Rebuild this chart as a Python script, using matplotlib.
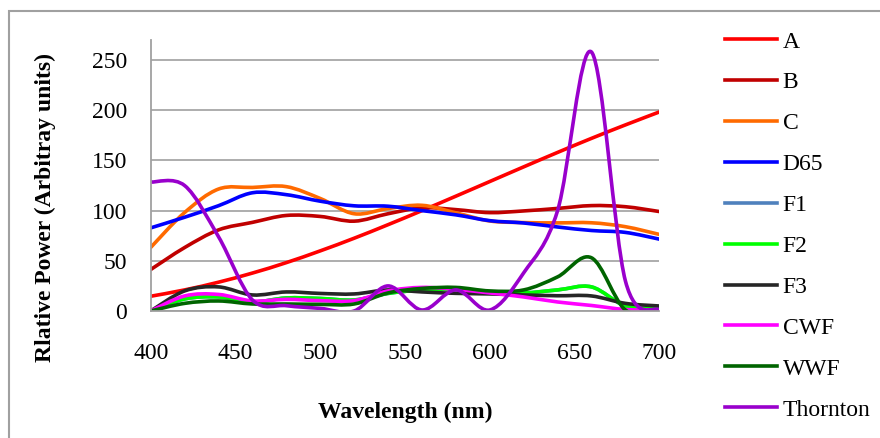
import numpy as np
import matplotlib.pyplot as plt
from matplotlib.path import Path
from matplotlib.patches import PathPatch, Rectangle
from matplotlib.lines import Line2D

plt.rcParams['font.family'] = ['Liberation Serif', 'DejaVu Serif']

# Spectra, every 20 nm
wavelength = [400, 420, 440, 460, 480, 500, 520, 540, 560, 580, 600, 620, 640, 660, 680, 700]
A = [14.7, 21.0, 28.7, 37.8, 48.2, 59.9, 72.5, 86.0, 100.0, 114.4, 129.0, 143.6, 158.0, 172.0, 185.4, 198.3]
B = [41.3, 63.2, 80.8, 88.3, 95.2, 94.2, 89.5, 96.9, 102.8, 101.0, 98.0, 99.7, 102.2, 105.0, 103.9, 99.1]
C = [63.3, 98.1, 121.5, 123.1, 123.9, 112.1, 96.9, 102.1, 105.3, 97.8, 89.7, 88.1, 87.8, 87.9, 84.0, 76.3]
D65 = [82.8, 93.4, 104.9, 117.8, 115.9, 109.4, 104.8, 104.4, 100.0, 95.8, 90.0, 87.7, 83.7, 80.2, 78.3, 71.6]
F1 = [0, 12, 14, 9, 13, 12.5, 11, 17.5, 21, 21.5, 19, 18, 21, 24, 5, 2]
F2 = [0, 12, 14, 9, 13, 12.5, 11, 17.5, 21, 21.5, 19, 18, 21, 24, 5, 2]
F3 = [0, 20, 24, 16, 19, 17.5, 17, 21, 19, 17.6, 17, 16, 15.2, 15, 7.6, 5]
CWF = [0, 15, 16.5, 10, 11.6, 10.3, 10.3, 20, 23.5, 21.5, 18, 14, 9, 5.5, 1.5, 1]
WWF = [0, 7.6, 10, 7, 7, 6.6, 7, 18, 22.5, 23.5, 20, 21, 34, 53, 1, 0]
Thornton = [128.5, 125, 74, 11, 5.3, 2.6, 0, 25, 1, 21, 1, 38, 100, 258, 30, 1]

names = ['A', 'B', 'C', 'D65', 'F1', 'F2', 'F3', 'CWF', 'WWF', 'Thornton']
series = [A, B, C, D65, F1, F2, F3, CWF, WWF, Thornton]
colors = ['#FF0000', '#C00000', '#FF6A00', '#0000FF', '#4F81BD',
          '#00FF00', '#262626', '#FF00FF', '#006400', '#9900CC']


def smooth_path(x, y):
    # cubic Bezier segments, same idea as Excel's "smoothed line"
    x = np.asarray(x, float)
    y = np.asarray(y, float)
    xp = np.concatenate([[x[0]], x, [x[-1]]])
    yp = np.concatenate([[y[0]], y, [y[-1]]])
    verts = [(x[0], y[0])]
    codes = [Path.MOVETO]
    for i in range(len(x) - 1):
        c1 = (x[i] + (xp[i + 2] - xp[i]) / 6, y[i] + (yp[i + 2] - yp[i]) / 6)
        c2 = (x[i + 1] - (xp[i + 3] - xp[i + 1]) / 6, y[i + 1] - (yp[i + 3] - yp[i + 1]) / 6)
        verts += [c1, c2, (x[i + 1], y[i + 1])]
        codes += [Path.CURVE4] * 3
    return Path(verts, codes)


fig = plt.figure(figsize=(8.8, 4.38), dpi=100)
ax = fig.add_axes([150.7 / 880, 1 - 311 / 438, 508.6 / 880, 271 / 438])

lw = 2.6
for vals, col in zip(series, colors):
    ax.add_patch(PathPatch(smooth_path(wavelength, vals), fill=False, edgecolor=col,
                           lw=lw, capstyle='round', joinstyle='round'))

ax.set_xlim(400, 700)
ax.set_ylim(0, 270)
ax.set_xticks([400, 450, 500, 550, 600, 650, 700])
ax.set_yticks([0, 50, 100, 150, 200, 250])
ax.grid(axis='y', color='#A0A0A0', lw=1.2)
ax.set_axisbelow(True)
ax.tick_params(length=0, labelsize=17)
ax.tick_params(axis='y', pad=17)
ax.tick_params(axis='x', pad=23)
for s in ['top', 'right']:
    ax.spines[s].set_visible(False)
for s in ['left', 'bottom']:
    ax.spines[s].set_color('#A0A0A0')
    ax.spines[s].set_linewidth(1.3)

fig.text(405 / 880, 1 - 412 / 438, 'Wavelength (nm)', fontsize=17, fontweight='bold',
         ha='center', va='center')
fig.text(45 / 880, 1 - 208 / 438, 'Rlative Power (Arbitray units)', fontsize=17,
         fontweight='bold', rotation=90, ha='center', va='center')

handles = [Line2D([], [], color=c, lw=lw) for c in colors]
fig.legend(handles, names, loc='upper left', bbox_to_anchor=(725 / 880, 1 - 31 / 438),
           frameon=False, fontsize=17, borderpad=0, borderaxespad=0,
           handlelength=2.2, handletextpad=0.25, labelspacing=0.82)

fig.add_artist(Rectangle((9 / 880, -0.1), 1.2, 1.1 - 11 / 438, transform=fig.transFigure,
                         fill=False, edgecolor='#A0A0A0', lw=1.5))

fig.savefig('out.png', dpi=100)
